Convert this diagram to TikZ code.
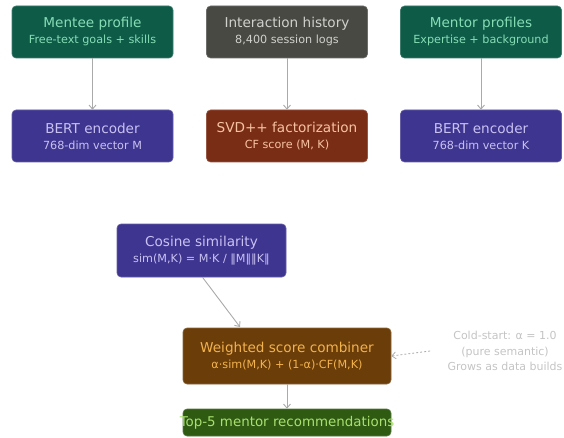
\documentclass[tikz,border=0pt]{standalone}
\usepackage{fontspec}
\setmainfont{DejaVu Sans}
\usetikzlibrary{arrows.meta,positioning}
\definecolor{tealbox}{HTML}{0E5B48}
\definecolor{tealtxt}{HTML}{86DDB4}
\definecolor{graybox}{HTML}{494944}
\definecolor{graytxt}{HTML}{D0D0CC}
\definecolor{purpbox}{HTML}{3E3590}
\definecolor{purptxt}{HTML}{C8C2F2}
\definecolor{rustbox}{HTML}{7A2D15}
\definecolor{rusttxt}{HTML}{F6C2A2}
\definecolor{brownbox}{HTML}{6B3E09}
\definecolor{browntxt}{HTML}{F2B24E}
\definecolor{leafbox}{HTML}{2E5A12}
\definecolor{leaftxt}{HTML}{A9E070}
\definecolor{arrgray}{HTML}{AAAAAA}
\definecolor{notetxt}{HTML}{C4C4C4}
\tikzset{stage/.style={rounded corners=4, inner sep=0pt, minimum width=161pt, minimum height=52pt, align=center, draw=#1!80!white, line width=0.6pt, fill=#1}}
\tikzset{arr/.style={draw=arrgray, -{Straight Barb[length=4pt,width=7pt]}, line width=0.9pt}}
\newcommand{\ttl}[1]{{\fontsize{13.6}{15}\selectfont #1}}
\newcommand{\sub}[1]{{\fontsize{11.2}{13}\selectfont #1}}

\begin{document}
\begin{tikzpicture}[x=1pt,y=-1pt]
        \useasboundingbox (0,0) rectangle (564,438);
        % inputs
        \node[stage=tealbox, text=tealtxt] (mentee) at (92.5,32){\ttl{Mentee profile}\\[4pt]\sub{Free-text goals + skills}};
        \node[stage=graybox, text=graytxt] (hist) at (287,32){\ttl{Interaction history}\\[4pt]\sub{8,400 session logs}};
        \node[stage=tealbox, text=tealtxt] (mentors) at (481,32){\ttl{Mentor profiles}\\[4pt]\sub{Expertise + background}};

        % encoders
        \node[stage=purpbox, text=purptxt] (bertM) at (92.5,136){\ttl{BERT encoder}\\[4pt]\sub{768-dim vector M}};
        \node[stage=rustbox, text=rusttxt] (svd) at (287,136){\ttl{SVD++ factorization}\\[4pt]\sub{CF score (M, K)}};
        \node[stage=purpbox, text=purptxt] (bertK) at (481,136){\ttl{BERT encoder}\\[4pt]\sub{768-dim vector K}};

        \node[stage=purpbox, text=purptxt, minimum width=169pt, minimum height=53pt] (cos) at (201.5,250.5){\ttl{Cosine similarity}\\[4pt]\sub{sim(M,K) = M·K / ‖M‖‖K‖}};
        \node[stage=brownbox, text=browntxt, minimum width=208pt, minimum height=56pt] (comb) at (287,356){\ttl{Weighted score combiner}\\[4pt]\sub{α·sim(M,K) + (1-α)·CF(M,K)}};
        \node[stage=leafbox, text=leaftxt, minimum width=208pt, minimum height=27pt] (top) at (287,422.5){\makebox[206pt][c]{\fontsize{13.4}{15}\selectfont Top-5 mentor recommendations}};

        \node[text=notetxt, align=center, font=\fontsize{11}{15.5}\selectfont] (cold) at (505,351){Cold-start: α = 1.0\\(pure semantic)\\Grows as data builds};

        \draw[arr] (mentee) -- (bertM);
        \draw[arr] (hist) -- (svd);
        \draw[arr] (mentors) -- (bertK);
        \draw[arr] (cos.south) ++(1,0) coordinate (cs) (cs) -- (240,327);
        \draw[arr, dashed, dash pattern=on 2pt off 2pt, line width=0.8pt] (cold.west) ++(-14,0) coordinate (cw) (cw) -- (comb.east);
        \draw[arr] (comb) -- (top);
\end{tikzpicture}
\end{document}
